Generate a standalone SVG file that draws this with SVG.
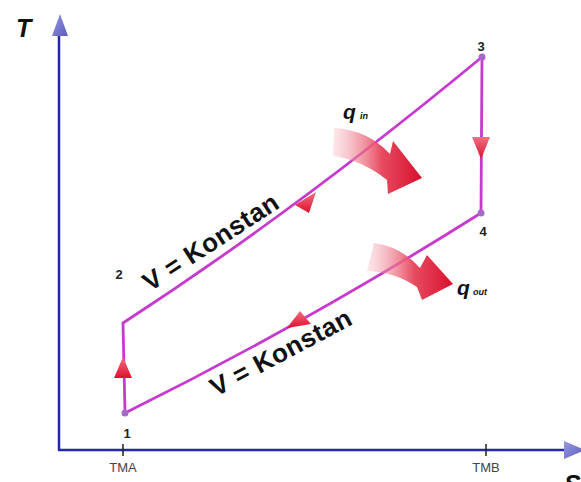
<svg xmlns="http://www.w3.org/2000/svg" width="581" height="482" viewBox="0 0 581 482">
<style>
.axis{stroke:#2626a8;stroke-width:2.5;fill:none}
.path{stroke:#c63ad0;stroke-width:2.8;fill:none}
.num{font-family:"Liberation Sans",Arial,sans-serif;font-size:13px;font-weight:bold;fill:#222;text-anchor:middle}
.tick{font-family:"Liberation Sans",Arial,sans-serif;font-size:13px;fill:#444;text-anchor:middle}
.big{font-family:"Liberation Sans",Arial,sans-serif;font-weight:bold;font-style:italic;fill:#111}
.vk{font-family:"Liberation Sans",Arial,sans-serif;font-size:26px;font-weight:bold;fill:#111;letter-spacing:0.5px}
.pt{fill:#a868c8}
</style>
<defs>
<linearGradient id="ax" x1="0" y1="0" x2="1" y2="1"><stop offset="0" stop-color="#9a9ae0"/><stop offset="1" stop-color="#5a5ac0"/></linearGradient>
<linearGradient id="tri" x1="0" y1="0" x2="0" y2="1"><stop offset="0" stop-color="#f07080"/><stop offset="1" stop-color="#e01030"/></linearGradient>
<linearGradient id="heat" x1="0" y1="0" x2="1" y2="0"><stop offset="0" stop-color="#f4b0bc" stop-opacity="0.3"/><stop offset="0.55" stop-color="#e84a60"/><stop offset="1" stop-color="#d8102c"/></linearGradient>
</defs>
<g id="axes">
<line class="axis" x1="59" y1="33" x2="59" y2="450"/>
<polygon points="60,14 52,36 68,36" fill="url(#ax)"/>
<line class="axis" x1="58" y1="450" x2="566" y2="450"/>
<polygon points="585,450 564,441 564,459" fill="url(#ax)"/>
<line x1="123" y1="444" x2="123" y2="456" stroke="#222" stroke-width="1.5"/>
<line x1="486" y1="444" x2="486" y2="456" stroke="#222" stroke-width="1.5"/>
<text class="tick" x="123" y="472">TMA</text>
<text class="tick" x="486" y="472">TMB</text>
<text class="big" x="16" y="37" font-size="25">T</text>
<text class="big" x="564" y="493" font-size="25">S</text>
</g>
<g id="connectors">
<path class="path" d="M125,413 L123,323 Q297,210 482,57 L481,213 Q303,325 125,413"/>
<polygon points="123,357 114,378 132,378" fill="url(#tri)"/>
<polygon points="472,137 490,137 481,159" fill="url(#tri)"/>
<polygon points="295,205 316,192 309,213" fill="url(#tri)"/>
<polygon points="287,328 300,311 311,324" fill="url(#tri)"/>
</g>
<g id="p1"><circle class="pt" cx="125" cy="413" r="3.5"/><text class="num" x="127" y="438">1</text></g>
<g id="p2"><text class="num" x="119" y="279">2</text></g>
<g id="p3"><circle class="pt" cx="482" cy="57" r="3.5"/><text class="num" x="481" y="51">3</text></g>
<g id="p4"><circle class="pt" cx="481" cy="213" r="3.5"/><text class="num" x="483" y="236">4</text></g>
<g id="label-upper"><text class="vk" transform="translate(150,292) rotate(-33)">V = Konstan</text></g>
<g id="label-lower"><text class="vk" transform="translate(216,397) rotate(-28)">V = Konstan</text></g>
<g id="qin">
<path d="M334,128 Q368,130 390,154 L393,141 L422,178 L388,194 L387,180 Q362,160 333,156 Z" fill="url(#heat)"/>
<text class="big" x="343" y="119" font-size="21">q</text>
<text class="big" x="360" y="119" font-size="9">in</text>
</g>
<g id="qout">
<path d="M374,243 Q402,247 420,268 L427,255 L453,284 L422,300 L417,287 Q395,272 367,271 Z" fill="url(#heat)"/>
<text class="big" x="457" y="295" font-size="21">q</text>
<text class="big" x="473" y="295" font-size="9">out</text>
</g>
</svg>
